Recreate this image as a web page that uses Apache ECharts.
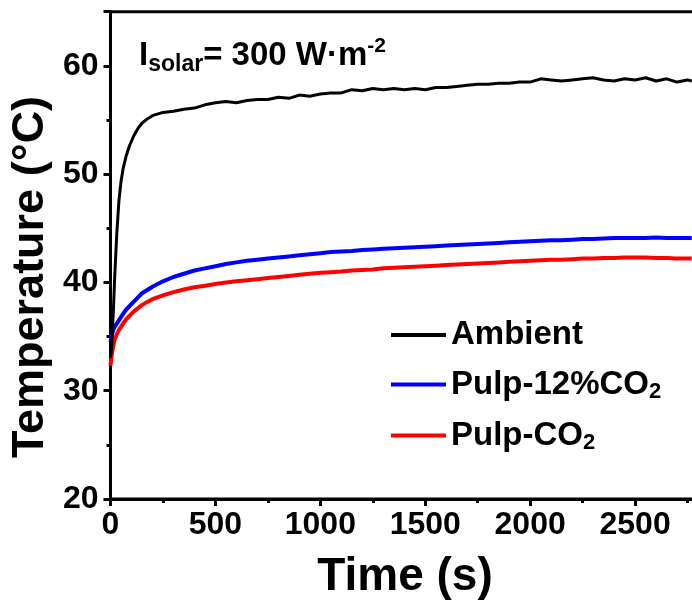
<!DOCTYPE html>
<html>
<head>
<meta charset="utf-8">
<script src="https://cdn.jsdelivr.net/npm/echarts@6/dist/echarts.min.js"></script>
<style>html,body{margin:0;padding:0;background:#fff}#c{width:692px;height:602px}</style>
</head>
<body>
<div id="c"></div>
<script>
var timeS = [0,5,10,15,20,30,40,50,60,75,90,110,130,150,175,
  200,250,300,350,400,450,500,550,600,650,700,750,800,850,900,950,
  1000,1050,1100,1150,1200,1250,1300,1350,1400,1450,1500,1550,1600,1650,1700,1750,1800,1850,1900,1950,
  2000,2050,2100,2150,2200,2250,2300,2350,2400,2450,2500,2550,2600,2650,2700,2750,2770];
var ambient = [33.0,34.0,35.8,38.0,40.5,44.5,47.5,49.3,50.5,51.7,52.6,53.5,54.2,54.7,55.1,
  55.4,55.7,55.8,56.0,56.1,56.4,56.6,56.7,56.6,56.8,56.9,56.9,57.1,57.0,57.3,57.2,
  57.4,57.5,57.5,57.8,57.7,57.9,57.8,57.9,57.8,57.9,57.8,58.0,58.0,58.1,58.2,58.3,58.3,58.4,58.4,58.5,
  58.5,58.8,58.7,58.6,58.7,58.8,58.9,58.7,58.6,58.8,58.7,58.9,58.6,58.8,58.5,58.7,58.6];
var pulp12 = [34.5,35.0,35.4,35.7,35.9,36.2,36.5,36.8,37.1,37.5,37.8,38.2,38.6,39.0,39.3,
  39.6,40.1,40.5,40.8,41.1,41.3,41.5,41.7,41.85,42.0,42.1,42.2,42.3,42.4,42.5,42.6,
  42.7,42.8,42.85,42.9,43.0,43.05,43.1,43.15,43.2,43.25,43.3,43.35,43.4,43.45,43.5,43.55,43.6,43.65,43.7,43.75,
  43.8,43.85,43.9,43.9,43.95,44.0,44.0,44.05,44.1,44.1,44.1,44.1,44.15,44.1,44.1,44.1,44.1];
var pulpCO2 = [32.3,33.2,33.8,34.3,34.7,35.2,35.6,35.9,36.2,36.6,36.9,37.3,37.6,37.9,38.2,
  38.45,38.8,39.1,39.35,39.55,39.7,39.85,40.0,40.1,40.2,40.3,40.4,40.5,40.6,40.7,40.8,
  40.9,40.95,41.0,41.1,41.15,41.2,41.3,41.35,41.4,41.45,41.5,41.55,41.6,41.65,41.7,41.75,41.8,41.85,41.9,41.95,
  42.0,42.05,42.1,42.1,42.15,42.2,42.2,42.25,42.25,42.3,42.3,42.3,42.25,42.25,42.2,42.2,42.2];
var seriesNames = ['Ambient','Pulp-12%CO2','Pulp-CO2'];
var seriesColors = ['#000000','#0000ff','#ff0000'];
var xTicks = [0,500,1000,1500,2000,2500];
var yTicks = [20,30,40,50,60];

var FONT = '"Liberation Sans", Arial, sans-serif';
function pairs(v){ return timeS.map(function(t,i){ return [t, v[i]]; }); }
var chart = echarts.init(document.getElementById('c'));
var values = [ambient, pulp12, pulpCO2];
var widths = [3, 4, 4];
chart.setOption({
  animation: false,
  backgroundColor: '#fff',
  grid: { left: 110.5, top: 11.7, right: -48, bottom: 103, outerBoundsMode: 'none', containLabel: false,
    show: true, borderColor: '#000', borderWidth: 3 },
  xAxis: {
    type: 'value', min: 0, max: 3000, interval: 500,
    axisLine: { lineStyle: { color: '#000', width: 3 } },
    axisTick: { show: true, length: 7, lineStyle: { width: 3, color: '#000' } },
    minorTick: { show: true, splitNumber: 2, length: 4, lineStyle: { width: 3, color: '#000' } },
    splitLine: { show: false },
    axisLabel: { color: '#000', fontSize: 32, fontWeight: 'bold', fontFamily: FONT, margin: 10,
      formatter: function(v){ return xTicks.indexOf(v) >= 0 ? String(v) : ''; } }
  },
  yAxis: {
    type: 'value', min: 20, max: 65, interval: 10,
    axisLine: { lineStyle: { color: '#000', width: 3 } },
    axisTick: { show: true, length: 7, lineStyle: { width: 3, color: '#000' } },
    minorTick: { show: true, splitNumber: 2, length: 4, lineStyle: { width: 3, color: '#000' } },
    splitLine: { show: false },
    axisLabel: { color: '#000', fontSize: 32, fontWeight: 'bold', fontFamily: FONT, margin: 12,
      showMaxLabel: false,
      formatter: function(v){ return yTicks.indexOf(v) >= 0 ? String(v) : ''; } }
  },
  legend: {
    orient: 'vertical', left: 386, top: 313, icon: 'rect', itemWidth: 55, itemHeight: 4, itemGap: 14,
    data: seriesNames,
    formatter: function(n){ return n.replace(/CO2$/, 'CO{s|2}'); },
    textStyle: { color: '#000', fontSize: 33, fontWeight: 'bold', fontFamily: FONT, lineHeight: 34,
      rich: { s: { fontSize: 22, fontWeight: 'bold', fontFamily: FONT, color: '#000', lineHeight: 34, padding: [15,0,0,0] } } }
  },
  graphic: [
    { type: 'text', left: 139, top: 36,
      style: { text: '{a|I}{b|solar}{a|= 300 W·m}{c|-2}', fill: '#000',
        rich: {
          a: { fontSize: 33, fontWeight: 'bold', fontFamily: FONT, lineHeight: 38 },
          b: { fontSize: 23, fontWeight: 'bold', fontFamily: FONT, lineHeight: 38, padding: [17,0,0,0] },
          c: { fontSize: 21, fontWeight: 'bold', fontFamily: FONT, lineHeight: 38, padding: [0,0,19,0] }
        } } },
    { type: 'text', x: 405, y: 577,
      style: { text: 'Time (s)', fill: '#000', font: 'bold 46px ' + FONT, textAlign: 'center', textVerticalAlign: 'middle' } },
    { type: 'text', x: 31, y: 277, rotation: Math.PI / 2,
      style: { text: 'Temperature (°C)', fill: '#000', font: 'bold 45px ' + FONT, textAlign: 'center', textVerticalAlign: 'middle' } }
  ],
  series: values.map(function(v, i){
    return { name: seriesNames[i], type: 'line', data: pairs(v), showSymbol: false, symbol: 'none',
      lineStyle: { color: seriesColors[i], width: widths[i] }, itemStyle: { color: seriesColors[i] },
      z: 3 - i, clip: true };
  })
});
</script>
</body>
</html>
